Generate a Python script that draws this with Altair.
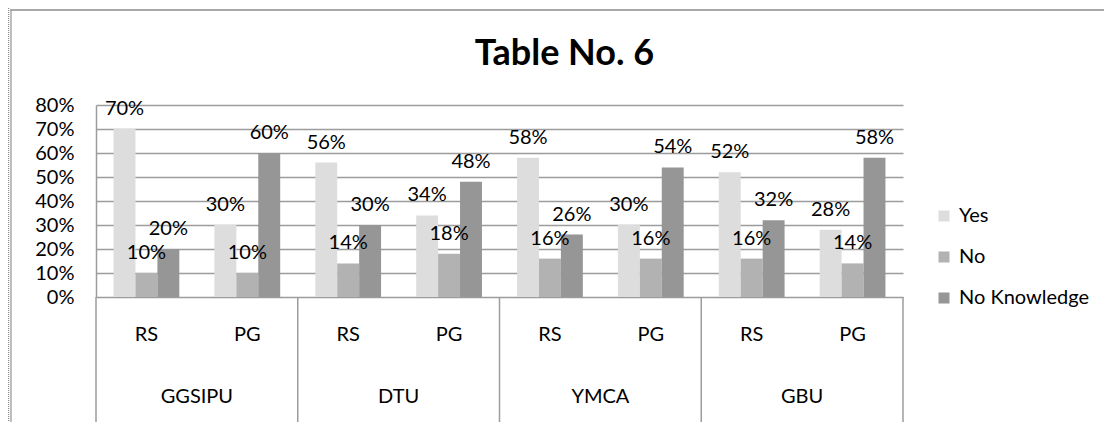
import altair as alt
import pandas as pd

# ---- data ----
universities = ["GGSIPU", "DTU", "YMCA", "GBU"]
levels = ["RS", "PG"]
series = ["Yes", "No", "No Knowledge"]
yes_vals = [70, 30, 56, 34, 58, 30, 52, 28]
no_vals = [10, 10, 14, 18, 16, 16, 16, 14]
nk_vals = [20, 60, 30, 48, 26, 54, 32, 58]
colors = ["#DDDDDD", "#B2B2B2", "#969696"]
y_ticks = [0, 0.1, 0.2, 0.3, 0.4, 0.5, 0.6, 0.7, 0.8]
title_text = "Table No. 6"

FONT = "Lato"
FS = 20
LINE = "#9c9c9c"

keys = [f"{u}|{lv}" for u in universities for lv in levels]
rows = []
for i, k in enumerate(keys):
    u, lv = k.split("|")
    for s, vals in zip(series, [yes_vals, no_vals, nk_vals]):
        rows.append({"key": k, "uni": u, "level": lv, "series": s, "value": vals[i] / 100})
df = pd.DataFrame(rows)
cats = pd.DataFrame([{"key": k, "uni": k.split("|")[0], "level": k.split("|")[1]} for k in keys])

W, H = 807, 192

xscale = alt.Scale(domain=keys, paddingInner=0, paddingOuter=0)
x = alt.X("key:N", sort=keys, scale=xscale, axis=None)
xo = alt.XOffset("series:N", sort=series,
                 scale=alt.Scale(domain=series, paddingInner=0, paddingOuter=0.8))
y = alt.Y("value:Q", scale=alt.Scale(domain=[0, 0.8]),
          axis=alt.Axis(format=".0%", values=y_ticks, grid=True, gridColor=LINE, gridWidth=1.5,
                        domainColor=LINE, domainWidth=1.5, ticks=False, labelPadding=22,
                        labelFont=FONT, labelFontSize=FS, labelColor="black", title=None))

bars = alt.Chart(df).mark_bar().encode(
    x=x, xOffset=xo, y=y,
    color=alt.Color("series:N", sort=series,
                    scale=alt.Scale(domain=series, range=colors),
                    legend=alt.Legend(title=None, orient="none", legendX=838, legendY=101,
                                      symbolType="square", symbolSize=121, symbolStrokeWidth=0,
                                      labelFont=FONT, labelFontSize=FS, labelColor="black",
                                      rowPadding=21, labelOffset=5)),
)

labels = alt.Chart(df).mark_text(dy=-14, baseline="alphabetic", font=FONT, fontSize=FS,
                                 color="black").encode(
    x=x, xOffset=xo, y=y, text=alt.Text("value:Q", format=".0%"))

sub_labels = alt.Chart(cats).mark_text(baseline="middle", font=FONT, fontSize=FS,
                                       color="black").encode(
    x=x, y=alt.value(H + 38), text="level:N")

group_labels = alt.Chart(cats).transform_filter(alt.datum.level == "PG").mark_text(
    baseline="middle", font=FONT, fontSize=FS, color="black").encode(
    x=alt.X("key:N", sort=keys, scale=xscale, axis=None, bandPosition=0),
    y=alt.value(H + 100), text="uni:N")

seps = alt.Chart(cats).transform_filter(alt.datum.level == "RS").mark_rule(
    color=LINE, strokeWidth=1.5).encode(
    x=alt.X("key:N", sort=keys, scale=xscale, axis=None, bandPosition=0),
    y=alt.value(H), y2=alt.value(H + 125))

sep_end = alt.Chart(cats).transform_filter(alt.datum.key == keys[-1]).mark_rule(
    color=LINE, strokeWidth=1.5).encode(
    x=alt.X("key:N", sort=keys, scale=xscale, axis=None, bandPosition=1),
    y=alt.value(H), y2=alt.value(H + 125))

title = alt.Chart(pd.DataFrame({"t": [title_text]})).mark_text(
    align="center", baseline="alphabetic", font=FONT, fontSize=36, fontWeight="bold",
    color="black").encode(x=alt.value(468.5), y=alt.value(-40), text="t:N")

frame_top = alt.Chart(pd.DataFrame({"t": [0]})).mark_rule(color="#a8a8a8", strokeWidth=2).encode(
    x=alt.value(-86), x2=alt.value(1016), y=alt.value(-95))
frame_left = alt.Chart(pd.DataFrame({"t": [0]})).mark_rule(color="#a8a8a8", strokeWidth=1.5).encode(
    x=alt.value(-85), y=alt.value(-95), y2=alt.value(330))
frame_dots = alt.Chart(pd.DataFrame({"t": [0]})).mark_rule(
    color="#8a8a8a", strokeWidth=1.5, strokeDash=[1, 1]).encode(
    x=alt.value(-87.5), y=alt.value(-97), y2=alt.value(330))

chart = alt.layer(
    frame_top, frame_left, frame_dots, seps, sep_end, bars, labels, sub_labels, group_labels, title
).properties(
    width=W, height=H,
    padding={"left": 88, "top": 97, "right": 201, "bottom": 125},
    autosize=alt.AutoSizeParams(type="none"),
    background="white",
).configure_view(strokeWidth=0)

chart.save("out.html", embed_options={"renderer": "svg", "actions": False})
